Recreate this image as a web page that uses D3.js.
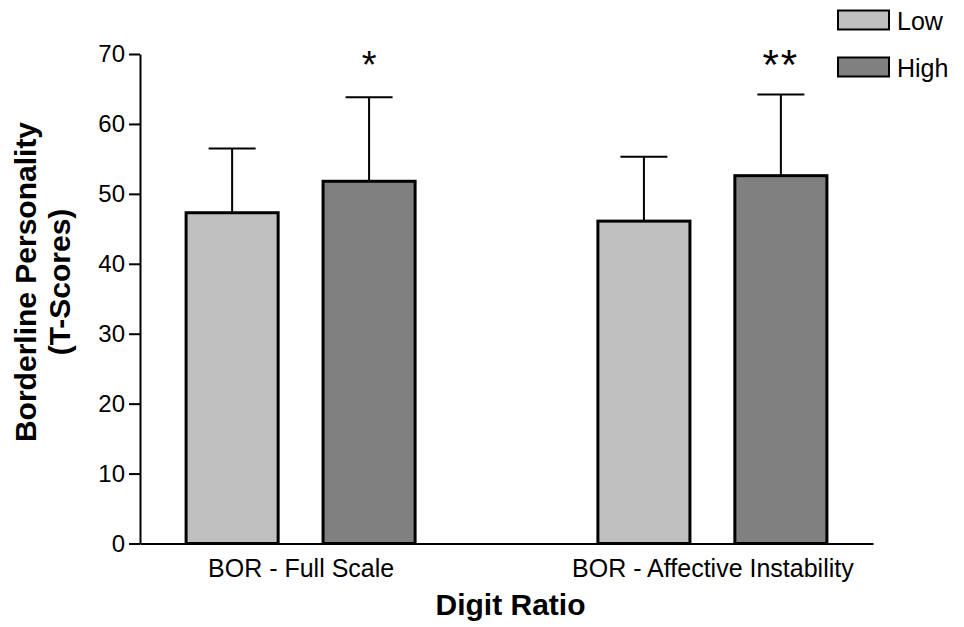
<!DOCTYPE html>
<html>
<head>
<meta charset="utf-8">
<script src="https://cdn.jsdelivr.net/npm/d3@7"></script>
<style>
  body { margin: 0; background: #fff; }
  text { font-family: "Liberation Sans", Arial, sans-serif; fill: #000; }
</style>
</head>
<body>
<script>
// data
var categories = ['BOR - Full Scale', 'BOR - Affective Instability']
var groups = ['Low', 'High']
var lowMeans = [47.3, 46.1]
var highMeans = [51.8, 52.6]
var lowErr = [9.2, 9.2]
var highErr = [12.0, 11.6]
var stars = ['*', '**']
var yTicks = [0, 10, 20, 30, 40, 50, 60, 70]

var colors = { Low: '#c0c0c0', High: '#808080' }

var rows = categories.map(function(c, i) {
  return {
    cat: c,
    star: stars[i],
    values: [
      { group: 'Low', mean: lowMeans[i], err: lowErr[i] },
      { group: 'High', mean: highMeans[i], err: highErr[i] }
    ]
  }
})

var svg = d3.select('body').append('svg')
  .attr('width', 964).attr('height', 627)

var plotL = 140, plotR = 873, plotT = 54, plotB = 543.5

var x = d3.scalePoint().domain(categories).range([plotL, plotR]).padding(0.39)
var xs = d3.scaleBand().domain(groups).range([-114.5, 114.5]).paddingInner(0.328)
var y = d3.scaleLinear().domain([0, 70]).range([plotB, plotT])

// y axis
var yAxis = svg.append('g').attr('transform', 'translate(' + plotL + ',0)')
  .call(d3.axisLeft(y).tickValues(yTicks).tickSize(11).tickPadding(4).tickSizeOuter(0))
yAxis.select('.domain').attr('stroke', '#000').attr('stroke-width', 2)
yAxis.selectAll('.tick line').attr('stroke', '#000').attr('stroke-width', 2)
yAxis.selectAll('.tick text').style('font-size', '24px').attr('fill', '#000')
  .style('font-family', '"Liberation Sans", Arial, sans-serif')

// x axis line, category labels only
var xAxis = svg.append('g').attr('transform', 'translate(0,' + plotB + ')')
  .call(d3.axisBottom(x).tickSize(0).tickPadding(16))
xAxis.select('.domain').attr('stroke', '#000').attr('stroke-width', 2)
xAxis.selectAll('.tick text').style('font-size', '25px').attr('fill', '#000')
  .style('font-family', '"Liberation Sans", Arial, sans-serif')

// bars
var grp = svg.selectAll('.grp').data(rows).enter().append('g')
  .attr('class', 'grp')
  .attr('transform', function(d) { return 'translate(' + x(d.cat) + ',0)' })

// error bars first (upper only), bars drawn over them
grp.selectAll('.err').data(function(d) { return d.values }).enter().append('line')
  .attr('class', 'err')
  .attr('x1', function(d) { return xs(d.group) + xs.bandwidth() / 2 })
  .attr('x2', function(d) { return xs(d.group) + xs.bandwidth() / 2 })
  .attr('y1', function(d) { return y(d.mean) })
  .attr('y2', function(d) { return y(d.mean + d.err) })
  .attr('stroke', '#000').attr('stroke-width', 2)

grp.selectAll('.cap').data(function(d) { return d.values }).enter().append('line')
  .attr('class', 'cap')
  .attr('x1', function(d) { return xs(d.group) + xs.bandwidth() / 2 - 23.5 })
  .attr('x2', function(d) { return xs(d.group) + xs.bandwidth() / 2 + 23.5 })
  .attr('y1', function(d) { return y(d.mean + d.err) })
  .attr('y2', function(d) { return y(d.mean + d.err) })
  .attr('stroke', '#000').attr('stroke-width', 2)

grp.selectAll('.bar').data(function(d) { return d.values }).enter().append('rect')
  .attr('class', 'bar')
  .attr('x', function(d) { return xs(d.group) })
  .attr('width', xs.bandwidth())
  .attr('y', function(d) { return y(d.mean) })
  .attr('height', function(d) { return y(0) - y(d.mean) })
  .attr('fill', function(d) { return colors[d.group] })
  .attr('stroke', '#000').attr('stroke-width', 3)

// significance stars above the High bar
grp.append('text')
  .attr('x', function(d) { return xs('High') + xs.bandwidth() / 2 })
  .attr('y', function(d) { return d.star.length > 1 ? 79 : 78 })
  .attr('text-anchor', 'middle')
  .style('font-size', function(d) { return d.star.length > 1 ? '42px' : '38px' })
  .style('letter-spacing', function(d) { return d.star.length > 1 ? '2px' : '0px' })
  .text(function(d) { return d.star })

// axis titles
svg.append('text')
  .attr('x', (plotL + plotR) / 2 + 4).attr('y', 615)
  .attr('text-anchor', 'middle')
  .style('font-size', '30px').style('font-weight', 'bold')
  .text('Digit Ratio')

var yt = svg.append('text')
  .attr('transform', 'translate(36,282) rotate(-90)')
  .attr('text-anchor', 'middle')
  .style('font-size', '30px').style('font-weight', 'bold')
yt.append('tspan').attr('x', 0).attr('y', 0).text('Borderline Personality')
yt.append('tspan').attr('x', 0).attr('y', 34).text('(T-Scores)')

// legend
var leg = svg.selectAll('.leg').data(groups).enter().append('g')
  .attr('class', 'leg')
  .attr('transform', function(d, i) { return 'translate(838,' + (10.5 + i * 47) + ')' })
leg.append('rect')
  .attr('width', 51).attr('height', 19)
  .attr('fill', function(d) { return colors[d] })
  .attr('stroke', '#000').attr('stroke-width', 2)
leg.append('text')
  .attr('x', 59).attr('y', 19.5)
  .style('font-size', '25px')
  .text(function(d) { return d })
</script>
</body>
</html>
